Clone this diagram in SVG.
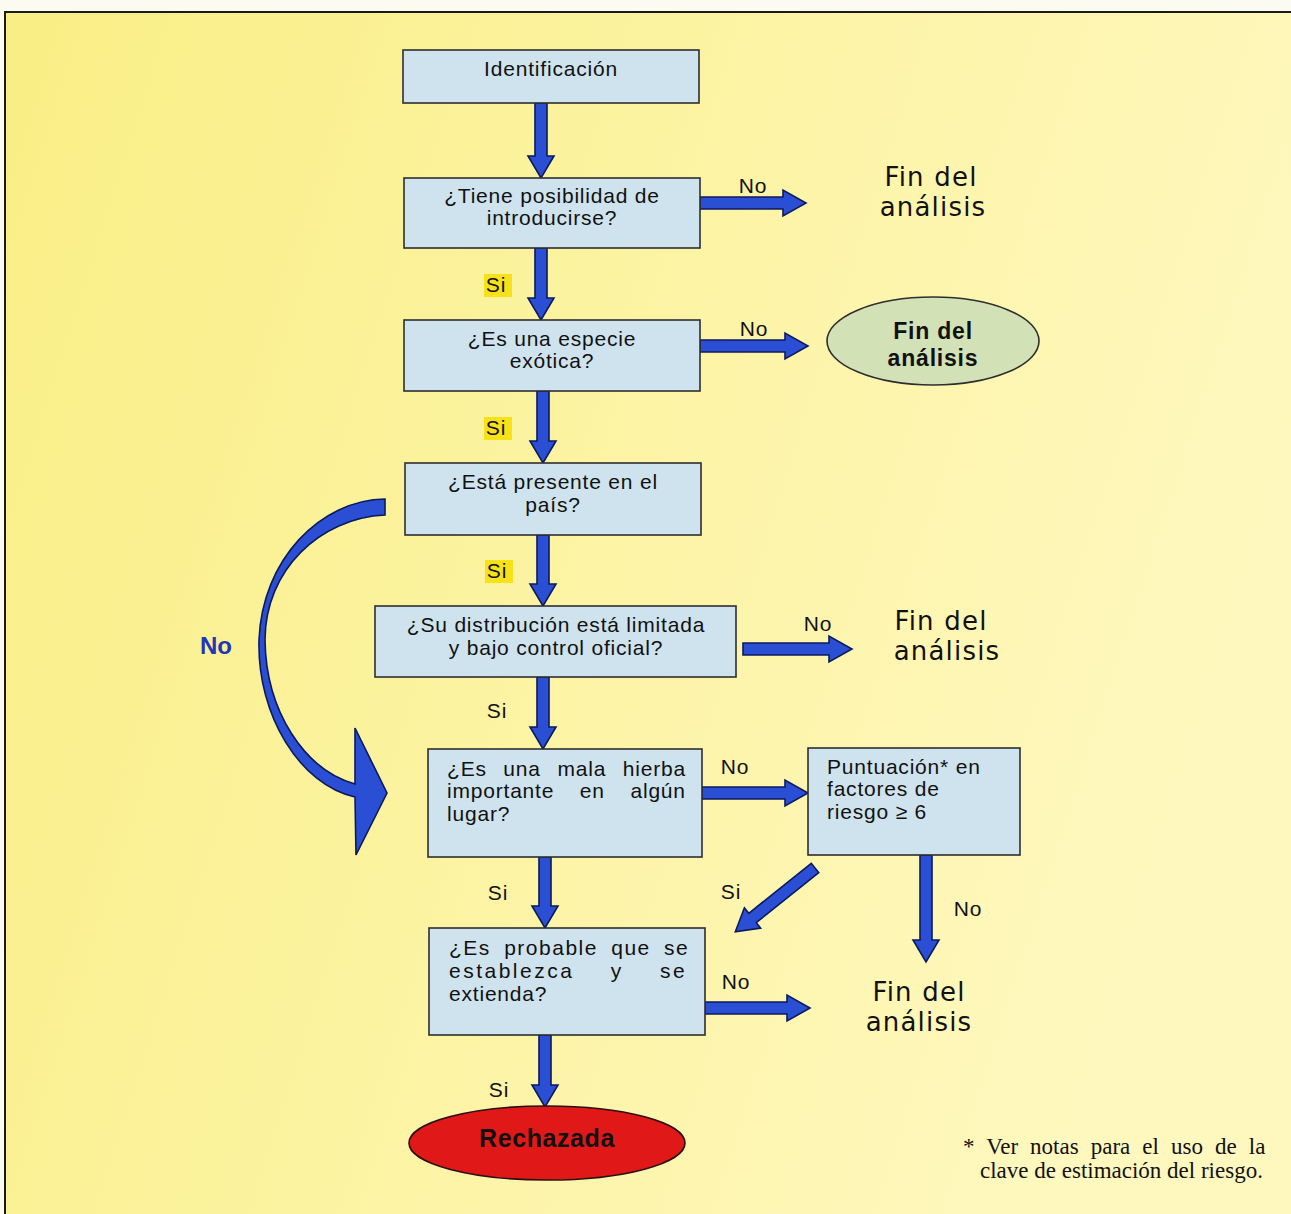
<svg xmlns="http://www.w3.org/2000/svg" width="1291" height="1214" viewBox="0 0 1291 1214">
<defs>
<linearGradient id="bg" x1="0" y1="0" x2="1" y2="0.3">
<stop offset="0" stop-color="#f9ee84"/>
<stop offset="0.5" stop-color="#fcf3a2"/>
<stop offset="1" stop-color="#fef8be"/>
</linearGradient>
<style>
.box{fill:#cfe3ee;stroke:#2e2e2e;stroke-width:1.6}
.t{font-family:"Liberation Sans",Arial,sans-serif;font-size:21px;letter-spacing:0.8px;fill:#111}
.c{text-anchor:middle}
.lbl{font-family:"Liberation Sans",Arial,sans-serif;font-size:21px;letter-spacing:0.8px;fill:#111;text-anchor:middle}
.hl{fill:#f7e21a}
.arr{fill:#2b4fd4;stroke:#0c1a5c;stroke-width:1.6;stroke-linejoin:miter}
.hand{font-family:"DejaVu Sans",sans-serif;font-size:26px;fill:#111;text-anchor:middle;letter-spacing:1.2px}
.bold{font-family:"Liberation Sans",Arial,sans-serif;font-weight:bold;text-anchor:middle;fill:#111}
.note{font-family:"Liberation Serif","Times New Roman",serif;font-size:23px;fill:#111}
</style>
</defs>
<rect x="0" y="0" width="1291" height="1214" fill="#fbfbf2"/>
<rect x="5" y="12" width="1300" height="1220" fill="url(#bg)" stroke="#1a1a1a" stroke-width="2"/>

<g id="connectors">
<polygon class="arr" points="535,103 547,103 547,156 554,156 541,178 528,156 535,156"/>
<polygon class="arr" points="535,248 547,248 547,298 554,298 541,320 528,298 535,298"/>
<polygon class="arr" points="537,391 549,391 549,441 556,441 543,463 530,441 537,441"/>
<polygon class="arr" points="537,535 549,535 549,584 556,584 543,606 530,584 537,584"/>
<polygon class="arr" points="537,677 549,677 549,727 556,727 543,749 530,727 537,727"/>
<polygon class="arr" points="539,857 551,857 551,906 558,906 545,928 532,906 539,906"/>
<polygon class="arr" points="539,1035 551,1035 551,1085 558,1085 545,1107 532,1085 539,1085"/>
<polygon class="arr" points="920,855 932,855 932,940 939,940 926,962 913,940 920,940"/>
<polygon class="arr" points="700,197 783,197 783,190 806,203 783,216 783,209 700,209"/>
<polygon class="arr" points="700,340 785,340 785,333 808,346 785,359 785,352 700,352"/>
<polygon class="arr" points="743,643 829,643 829,636 852,649 829,662 829,655 743,655"/>
<polygon class="arr" points="702,787 785,787 785,780 808,793 785,806 785,799 702,799"/>
<polygon class="arr" points="705,1002 787,1002 787,995 810,1008 787,1021 787,1014 705,1014"/>
<polygon class="arr" transform="translate(815,868) rotate(141.34)" points="0,-6 80,-6 80,-13 102,0 80,13 80,6 0,6"/>
<path class="arr" d="M385,499 C320,500 262,560 259,640 C257,715 300,785 355,797 L356,855 L387,793 L355,728 L355,784 C305,770 266,712 265,640 C265,570 320,518 385,515 Z"/>

<rect class="hl" x="484" y="274" width="28" height="23"/>
<rect class="hl" x="484" y="417" width="28" height="23"/>
<rect class="hl" x="485" y="560" width="28" height="23"/>
<text class="lbl" x="496" y="292">Si</text>
<text class="lbl" x="496" y="435">Si</text>
<text class="lbl" x="497" y="578">Si</text>
<text class="lbl" x="497" y="718">Si</text>
<text class="lbl" x="498" y="900">Si</text>
<text class="lbl" x="499" y="1097">Si</text>
<text class="lbl" x="731" y="899">Si</text>
<text class="lbl" x="753" y="193">No</text>
<text class="lbl" x="754" y="336">No</text>
<text class="lbl" x="818" y="631">No</text>
<text class="lbl" x="735" y="774">No</text>
<text class="lbl" x="968" y="916">No</text>
<text class="lbl" x="736" y="989">No</text>
<text x="216" y="654" font-family="Liberation Sans,Arial,sans-serif" font-size="24" font-weight="bold" fill="#2236b8" text-anchor="middle">No</text>
</g>

<g id="n1"><rect class="box" x="403" y="50" width="296" height="53"/>
<text class="t c" x="551" y="76">Identificación</text></g>

<g id="n2"><rect class="box" x="404" y="178" width="296" height="70"/>
<text class="t c" x="552" y="203">¿Tiene posibilidad de<tspan x="552" dy="22">introducirse?</tspan></text></g>

<g id="fin1"><text class="hand" x="931" y="186">Fin del<tspan x="933" dy="30">análisis</tspan></text></g>

<g id="n3"><rect class="box" x="404" y="320" width="296" height="71"/>
<text class="t c" x="552" y="346">¿Es una especie<tspan x="552" dy="22">exótica?</tspan></text></g>

<g id="fin2"><ellipse cx="933" cy="341" rx="106" ry="44" fill="#d3e2b6" stroke="#2e2e2e" stroke-width="1.6"/>
<text class="bold" x="933" y="339" font-size="23" letter-spacing="0.8">Fin del<tspan x="933" dy="27">análisis</tspan></text></g>

<g id="n4"><rect class="box" x="405" y="463" width="296" height="72"/>
<text class="t c" x="553" y="489">¿Está presente en el<tspan x="553" dy="23">país?</tspan></text></g>

<g id="n5"><rect class="box" x="375" y="606" width="361" height="71"/>
<text class="t c" x="556" y="632">¿Su distribución está limitada<tspan x="556" dy="23">y bajo control oficial?</tspan></text></g>

<g id="fin3"><text class="hand" x="941" y="630">Fin del<tspan x="947" dy="30">análisis</tspan></text></g>

<g id="n6"><rect class="box" x="428" y="749" width="274" height="108"/>
<text class="t" x="447" y="776"><tspan word-spacing="10">¿Es una mala hierba</tspan><tspan x="447" dy="22" word-spacing="19">importante en algún</tspan><tspan x="447" dy="23">lugar?</tspan></text></g>

<g id="n7"><rect class="box" x="808" y="748" width="212" height="107"/>
<text class="t" x="827" y="774">Puntuación* en<tspan x="827" dy="22">factores de</tspan><tspan x="827" dy="23">riesgo ≥ 6</tspan></text></g>

<g id="n8"><rect class="box" x="429" y="928" width="276" height="107"/>
<text class="t" x="449" y="955"><tspan letter-spacing="1.5" word-spacing="6">¿Es probable que se</tspan><tspan x="449" dy="23" letter-spacing="2.5" word-spacing="28">establezca y se</tspan><tspan x="449" dy="23">extienda?</tspan></text></g>

<g id="fin4"><text class="hand" x="919" y="1001">Fin del<tspan x="919" dy="30">análisis</tspan></text></g>

<g id="n9"><ellipse cx="547" cy="1143" rx="138" ry="37" fill="#e01818" stroke="#2a1010" stroke-width="1.6"/>
<text class="bold" x="547" y="1147" font-size="25" letter-spacing="0.6">Rechazada</text></g>

<g id="note">
<text class="note" x="963" y="1154"><tspan word-spacing="6.3">* Ver notas para el uso de la</tspan><tspan x="980" dy="24">clave de estimación del riesgo.</tspan></text>
</g>
</svg>
